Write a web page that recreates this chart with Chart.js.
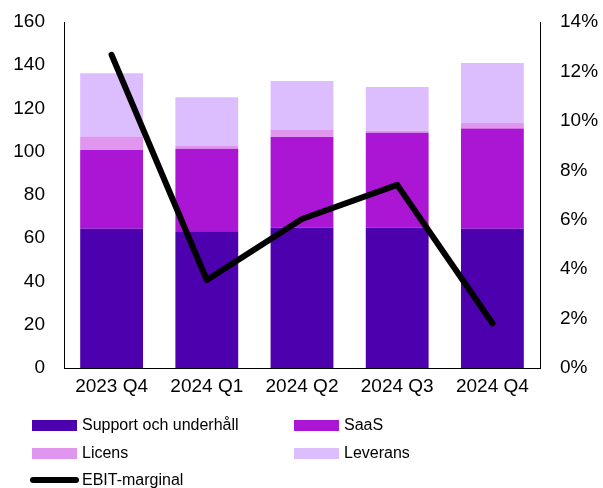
<!DOCTYPE html>
<html lang="sv">
<head>
    <meta charset="UTF-8">
    <title>Intäkter per kvartal och EBIT-marginal</title>
    <style>
        * {
            margin: 0;
            padding: 0;
            box-sizing: border-box;
        }

        body {
            background-color: white;
            font-family: Arial, 'Liberation Sans', sans-serif;
        }

        .wrap {
            position: relative;
            width: 603px;
            height: 488px;
        }

        canvas {
            position: absolute;
            left: 0;
            top: 0;
        }

        .legend-item {
            position: absolute;
            font-size: 16px;
            color: #000;
            line-height: 18px;
            white-space: nowrap;
        }

        .legend-item .swatch {
            position: absolute;
            left: 0;
            top: 4px;
            width: 45px;
            height: 11px;
        }

        .legend-item .line {
            position: absolute;
            left: -2px;
            top: 6px;
            width: 49px;
            height: 6px;
            border-radius: 3px;
            background-color: #000;
        }

        .legend-item span {
            position: absolute;
            left: 50px;
            top: 0;
        }
    </style>
</head>
<body>
    <div class="wrap">
        <canvas id="chart" width="603" height="488"></canvas>
        <div id="legend"></div>
    </div>

    <script src="https://cdn.jsdelivr.net/npm/chart.js"></script>
    <script>
        const quarters = ['2023 Q4', '2024 Q1', '2024 Q2', '2024 Q3', '2024 Q4'];

        // MSEK per kvartal
        const support = [64.4, 63.2, 64.9, 64.9, 64.4];
        const saas = [36.4, 38.2, 41.9, 43.9, 46.3];
        const licens = [6.2, 1.3, 3.5, 0.9, 2.6];
        const leverans = [29.3, 22.5, 22.4, 20.2, 27.7];

        // EBIT-marginal i procent
        const ebitMargin = [12.67, 3.56, 6.03, 7.41, 1.81];

        const leftTicks = [0, 20, 40, 60, 80, 100, 120, 140, 160];
        const rightTicks = [0, 2, 4, 6, 8, 10, 12, 14];

        const fontFamily = "Arial, 'Liberation Sans', sans-serif";

        const colors = {
            support: '#4c00ae',
            saas: '#aa16d3',
            licens: '#e096ef',
            leverans: '#dcbdfe'
        };

        function barSet(label, data, color) {
            return {
                type: 'bar',
                label: label,
                data: data,
                backgroundColor: color,
                borderWidth: 0,
                yAxisID: 'y',
                stack: 'rev',
                order: 1,
                categoryPercentage: 1,
                barPercentage: 0.66
            };
        }

        // fixed axis widths; the tick padding should not push the plot down
        function fixWidth(w) {
            return function (scale) {
                scale.width = w;
                scale.paddingTop = 0;
                scale.paddingBottom = 0;
            };
        }

        const ctx = document.getElementById('chart').getContext('2d');

        const chart = new Chart(ctx, {
            data: {
                labels: quarters,
                datasets: [
                    barSet('Support och underhåll', support, colors.support),
                    barSet('SaaS', saas, colors.saas),
                    barSet('Licens', licens, colors.licens),
                    barSet('Leverans', leverans, colors.leverans),
                    {
                        type: 'line',
                        label: 'EBIT-marginal',
                        data: ebitMargin,
                        borderColor: '#000',
                        borderWidth: 6,
                        borderCapStyle: 'round',
                        borderJoinStyle: 'round',
                        pointRadius: 0,
                        tension: 0,
                        fill: false,
                        yAxisID: 'y1',
                        order: 0
                    }
                ]
            },
            options: {
                responsive: false,
                animation: false,
                layout: {
                    padding: { top: 22, left: 0, right: 0, bottom: 0 }
                },
                plugins: {
                    legend: { display: false },
                    tooltip: { enabled: false }
                },
                scales: {
                    x: {
                        stacked: true,
                        grid: { display: false, drawTicks: false },
                        border: { display: true, color: '#000', width: 1 },
                        ticks: {
                            color: '#000',
                            padding: 7,
                            maxRotation: 0,
                            autoSkip: false,
                            font: { family: fontFamily, size: 19 }
                        },
                        afterFit: function (scale) { scale.height = 120; }
                    },
                    y: {
                        position: 'left',
                        stacked: true,
                        min: 0,
                        max: 160,
                        afterBuildTicks: function (scale) {
                            scale.ticks = leftTicks.map(v => ({ value: v }));
                        },
                        grid: { display: false, drawTicks: false },
                        border: { display: true, color: '#000', width: 1 },
                        ticks: {
                            color: '#000',
                            padding: 19,
                            font: { family: fontFamily, size: 19 }
                        },
                        afterFit: fixWidth(64)
                    },
                    y1: {
                        position: 'right',
                        min: 0,
                        max: 14,
                        afterBuildTicks: function (scale) {
                            scale.ticks = rightTicks.map(v => ({ value: v }));
                        },
                        grid: { display: false, drawTicks: false },
                        border: { display: true, color: '#000', width: 1 },
                        ticks: {
                            color: '#000',
                            padding: 20,
                            font: { family: fontFamily, size: 19 },
                            callback: function (v) { return v + '%'; }
                        },
                        afterFit: fixWidth(63)
                    }
                }
            }
        });

        // Legend in two columns, like the original
        const legendItems = [
            { text: 'Support och underhåll', color: colors.support, x: 32, y: 416 },
            { text: 'SaaS', color: colors.saas, x: 294, y: 416 },
            { text: 'Licens', color: colors.licens, x: 32, y: 444 },
            { text: 'Leverans', color: colors.leverans, x: 294, y: 444 },
            { text: 'EBIT-marginal', line: true, x: 32, y: 471 }
        ];

        const legendDiv = document.getElementById('legend');
        legendItems.forEach(item => {
            const el = document.createElement('div');
            el.className = 'legend-item';
            el.style.left = item.x + 'px';
            el.style.top = item.y + 'px';
            const mark = document.createElement('div');
            if (item.line) {
                mark.className = 'line';
            } else {
                mark.className = 'swatch';
                mark.style.backgroundColor = item.color;
            }
            const label = document.createElement('span');
            label.textContent = item.text;
            el.appendChild(mark);
            el.appendChild(label);
            legendDiv.appendChild(el);
        });
    </script>
</body>
</html>
